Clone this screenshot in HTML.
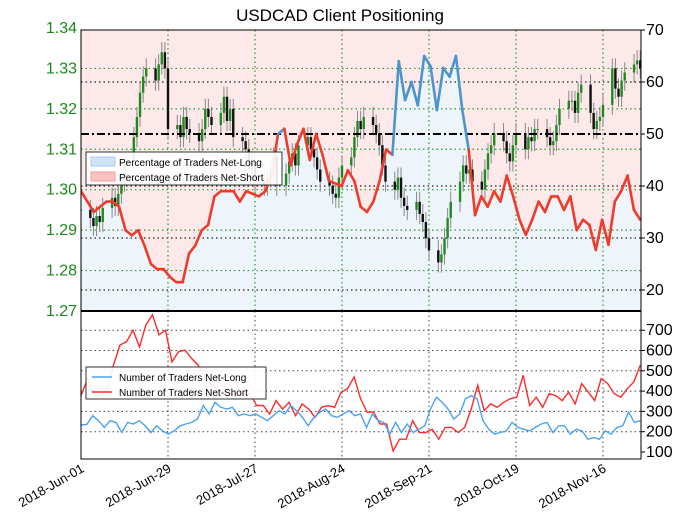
<!DOCTYPE html>
<html><head><meta charset="utf-8"><style>
html,body{margin:0;padding:0;background:#fff;}
svg{display:block;font-family:"Liberation Sans",sans-serif;}
</style></head><body>
<svg id="chart" width="680" height="517" viewBox="0 0 680 517" xmlns="http://www.w3.org/2000/svg">
<text x="340" y="21" text-anchor="middle" font-size="17">USDCAD Client Positioning</text>
<g id="topg"></g><g id="botg"></g><g id="axesg"></g>
</svg>
<script>
const dateTicks=["2018-Jun-01","2018-Jun-29","2018-Jul-27","2018-Aug-24","2018-Sep-21","2018-Oct-19","2018-Nov-16"];
const priceTicks=[1.27,1.28,1.29,1.30,1.31,1.32,1.33,1.34];
const pctTicks=[20,30,40,50,60,70];
const countTicks=[100,200,300,400,500,600,700];
const closes=[1.2950,
1.2930,1.2910,1.2935,1.2920,1.2955,
1.2980,1.2960,1.2990,1.3020,1.3070,
1.3130,1.3180,1.3240,1.3280,1.3300,
1.3270,1.3310,1.3340,1.3300,1.3150,
1.3160,1.3130,1.3180,1.3150,1.3140,
1.3120,1.3150,1.3200,1.3180,1.3160,
1.3190,1.3230,1.3170,1.3200,1.3130,
1.3120,1.3100,1.3050,1.3070,1.3020,
1.3010,1.3030,1.3050,1.3080,1.3010,
1.3040,1.3070,1.3090,1.3060,1.3110,
1.3130,1.3100,1.3080,1.3050,1.3020,
1.3010,1.2990,1.2980,1.3030,1.3060,
1.3080,1.3130,1.3170,1.3150,1.3180,
1.3160,1.3140,1.3110,1.3060,1.3020,
1.3000,1.3030,1.2980,1.2960,1.2950,
1.2970,1.2940,1.2920,1.2880,1.2850,
1.2820,1.2840,1.2880,1.2930,1.2970,
1.3020,1.3060,1.3040,1.3050,1.3020,
1.3000,1.3050,1.3090,1.3110,1.3140,
1.3120,1.3090,1.3070,1.3110,1.3140,
1.3100,1.3130,1.3120,1.3150,1.3150,
1.3130,1.3110,1.3120,1.3160,1.3200,
1.3220,1.3220,1.3190,1.3240,1.3260,
1.3190,1.3150,1.3170,1.3180,1.3210,
1.3300,1.3250,1.3230,1.3270,1.3290,
1.3310,1.3320,1.3300];
const pctLong=[39,37,35,36,37,37,36,31.5,30.5,31.5,28.5,25,24,24,22.5,21.5,21.5,27,28.6,31.5,32.5,38,39,39,39,37,39,38.5,38,39,42,50,51,44,48,51,45,50,46,41,40.5,40,43,41,36,35,37,41,47,46,64,56.5,60,55.5,65,63,54.6,62.7,61,65,54.6,47,34.4,38,36,39,37,42,38,33.5,30.6,33.5,37,35,38,38,35.4,38,31.5,33.5,32.5,27.7,33.5,28.7,37,39,42,35.4,33.5];
const netShort=[378,460,378,378,411,528,627,643,700,618,727,776,677,700,544,594,602,561,528,470,430,410,395,385,380,385,387,329,329,287,353,312,345,279,337,312,271,320,328,320,395,412,470,362,296,296,238,238,105,163,163,254,196,196,212,163,221,221,196,221,312,428,304,337,320,345,362,370,478,329,370,320,387,378,353,395,337,437,395,353,461,437,387,370,412,445,528];
const netLong=[233,236,279,254,221,254,246,196,246,238,254,229,196,229,204,188,204,229,238,246,263,329,287,345,320,312,320,279,287,279,287,271,254,279,304,287,329,304,271,229,271,296,312,279,271,287,304,279,287,221,287,254,246,188,246,196,238,196,212,229,312,370,345,312,262,287,362,378,362,254,212,188,196,204,246,221,212,204,221,238,246,196,229,229,188,212,204,163,171,163,204,188,221,229,296,246,254];

const NS="http://www.w3.org/2000/svg";
const L=81,R=641,T=30,M=311,B=459;
function mk(tag,attrs,parent){const e=document.createElementNS(NS,tag);for(const k in attrs)e.setAttribute(k,attrs[k]);parent.appendChild(e);return e;}
const topG=document.getElementById('topg'),botG=document.getElementById('botg'),axG=document.getElementById('axesg');
const start=Date.UTC(2018,5,1),DAY=86400000,PXDAY=3.107;
const xDate=d=>L+((d-start)/DAY)*PXDAY;
const yPrice=p=>M-(p-1.27)/0.01*40.43;
const yPct=v=>T+(70-v)*5.2;
const yCnt=v=>452-(v-100)*0.203;
const tdays=[];let dd=start;while(tdays.length<closes.length){const wd=new Date(dd).getUTCDay();if(wd!==0&&wd!==6)tdays.push(dd);dd+=DAY;}
const xIdx=i=>xDate(tdays[i]);
const x0=xIdx(0),x1=xIdx(closes.length-1);
const xSeries=(i,n)=>x0+(x1-x0)*i/(n-1);

const clip=mk('clipPath',{id:'topclip'},topG);mk('rect',{x:L,y:T,width:R-L,height:M-T},clip);
const tg=mk('g',{'clip-path':'url(#topclip)'},topG);
let bg=mk('rect',{x:L,y:T,width:R-L,height:M-T,fill:'#fde9e9'},tg);


let pts=pctLong.map((v,i)=>xSeries(i,pctLong.length).toFixed(1)+','+yPct(v).toFixed(1));
let area=mk('polygon',{points:L+','+M+' '+L+','+yPct(pctLong[0]).toFixed(1)+' '+pts.join(' ')+' '+R+','+yPct(pctLong[pctLong.length-1]).toFixed(1)+' '+R+','+M,fill:'#eef5fa'},tg);


priceTicks.slice(1,-1).forEach(p=>mk('line',{x1:L,x2:R,y1:yPrice(p),y2:yPrice(p),stroke:'#2a9a2a','stroke-dasharray':'1.5,3','stroke-width':1.2},tg));
pctTicks.filter(v=>v!==50&&v!==70).forEach(v=>mk('line',{x1:L,x2:R,y1:yPct(v),y2:yPct(v),stroke:'#222','stroke-dasharray':'1.5,3','stroke-width':1.2},tg));
dateTicks.forEach((t,i)=>{const x=xDate(start+i*28*DAY);mk('line',{x1:x,x2:x,y1:T,y2:M,stroke:'#2a9a2a','stroke-dasharray':'1.5,3','stroke-width':1.2},tg);
 mk('line',{x1:x,x2:x,y1:M,y2:B,stroke:'#444','stroke-dasharray':'1.5,3'},botG);});
closes.forEach((c,i)=>{const o=i?closes[i-1]:c;const x=xIdx(i);const up=c>=o;const col=up?'#1f8a1f':'#111';
 const g=mk('g',{},tg);
 
 
 mk('line',{x1:x,x2:x,y1:yPrice(Math.max(o,c)+0.0025),y2:yPrice(Math.min(o,c)-0.0025),stroke:'#888','stroke-width':1},g);
 mk('rect',{x:x-1.2,y:yPrice(Math.max(o,c)),width:2.4,height:Math.max(1,Math.abs(yPrice(o)-yPrice(c))),fill:col},g);});
mk('line',{x1:L,x2:R,y1:yPct(50),y2:yPct(50),stroke:'#000','stroke-width':2,'stroke-dasharray':'8,3,2,3'},tg);
for(let i=0;i<pctLong.length-1;i++){const a=pctLong[i],b=pctLong[i+1];
 const s=mk('line',{x1:xSeries(i,pctLong.length),y1:yPct(a),x2:xSeries(i+1,pctLong.length),y2:yPct(b),stroke:(a+b)/2>=50?'#4b94cc':'#ef3b2c','stroke-width':2.6,'stroke-linecap':'round'},tg);
 
 }
countTicks.slice(1).forEach(v=>mk('line',{x1:L,x2:R,y1:yCnt(v),y2:yCnt(v),stroke:'#444','stroke-dasharray':'1.5,3'},botG));
function poly(arr,col,name){const p=mk('polyline',{points:arr.map((v,i)=>xSeries(i,arr.length).toFixed(1)+','+yCnt(v).toFixed(1)).join(' '),fill:'none',stroke:col,'stroke-width':1.4},botG);
 
 }
poly(netShort,'#ff2a2a','net-short-count-line');
poly(netLong,'#4aa3f0','net-long-count-line');
mk('rect',{x:L,y:T,width:R-L,height:M-T,fill:'none',stroke:'#000','stroke-width':1},axG);
mk('rect',{x:L,y:M,width:R-L,height:B-M,fill:'none',stroke:'#000','stroke-width':1},axG);
mk('line',{x1:L,x2:R,y1:M,y2:M,stroke:'#000','stroke-width':2},axG);
priceTicks.forEach(p=>{const t=mk('text',{x:77,y:yPrice(p)+5,'text-anchor':'end','font-size':16,fill:'#1a8a1a'},axG);t.textContent=p.toFixed(2);
 
 });
pctTicks.forEach(v=>{const t=mk('text',{x:646,y:yPct(v)+5,'font-size':16},axG);t.textContent=v;
 
 
 mk('line',{x1:R,x2:R+4,y1:yPct(v),y2:yPct(v),stroke:'#000'},axG);});
countTicks.forEach(v=>{const t=mk('text',{x:646,y:yCnt(v)+5,'font-size':16},axG);t.textContent=v;
 
 
 mk('line',{x1:R,x2:R+4,y1:yCnt(v),y2:yCnt(v),stroke:'#000'},axG);});
dateTicks.forEach((s,i)=>{const x=xDate(start+i*28*DAY);const t=mk('text',{x:x+4,y:471,'text-anchor':'end','font-size':13,transform:'rotate(-30 '+(x+4)+' 471)'},axG);t.textContent=s;
 
 });
function legend(x,y,w,h,items,name){const g=mk('g',{},axG);
 
 
 mk('rect',{x:x,y:y,width:w,height:h,fill:'#fff','fill-opacity':0.9,stroke:'#333','stroke-width':1},g);
 items.forEach((it,k)=>{const yy=y+10+k*15;
  if(it.patch)mk('rect',{x:x+5,y:yy-5,width:24,height:9,fill:it.c,stroke:it.s},g);else mk('line',{x1:x+6,x2:x+26,y1:yy,y2:yy,stroke:it.c,'stroke-width':1.5},g);
  const t=mk('text',{x:x+33,y:yy+4,'font-size':10},g);t.textContent=it.t;});}
legend(86,152,196,33,[{t:'Percentage of Traders Net-Long',c:'#cfe4f7',s:'#a8cdee',patch:1},{t:'Percentage of Traders Net-Short',c:'#f9c3c3',s:'#f4a0a0',patch:1}],'percent-legend');
legend(86,367,180,32,[{t:'Number of Traders Net-Long',c:'#4aa3f0'},{t:'Number of Traders Net-Short',c:'#ff2a2a'}],'count-legend');
</script>
</body></html>
